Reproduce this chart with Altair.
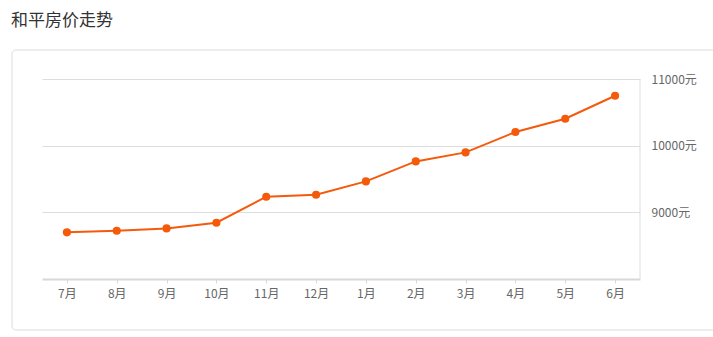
import altair as alt
import pandas as pd

months = ["7月", "8月", "9月", "10月", "11月", "12月", "1月", "2月", "3月", "4月", "5月", "6月"]
prices = [8700, 8724, 8759, 8844, 9234, 9264, 9464, 9764, 9899, 10205, 10404, 10749]
y_ticks = [9000, 10000, 11000]

df = pd.DataFrame({"month": months, "price": prices})

W, H = 598, 200
FONT = "Noto Sans CJK SC"
ORANGE = "#f45a0a"

x = alt.X("month:N", sort=months, scale=alt.Scale(type="point", padding=0.5),
          axis=alt.Axis(title=None, labelAngle=0, labelFont=FONT, labelFontSize=12,
                        labelColor="#666", domainColor="#d8d8d8", domainWidth=2,
                        tickColor="#d8d8d8", tickSize=4, labelPadding=5, grid=False))
y = alt.Y("price:Q", scale=alt.Scale(domain=[8000, 11000], nice=False, zero=False),
          axis=alt.Axis(title=None, orient="right", values=y_ticks,
                        labelExpr="datum.value + '元'", labelFont=FONT, labelFontSize=12,
                        labelColor="#666", domain=False, ticks=False, labelPadding=11,
                        grid=True, gridColor="#dddddd", gridWidth=1))

box = alt.Chart(pd.DataFrame({"a": [0]})).mark_rect(
    fill="transparent", stroke="#dcdcdc", strokeWidth=1, cornerRadius=4
).encode(x=alt.value(-30), x2=alt.value(W + 90), y=alt.value(-29), y2=alt.value(H + 51))

right_rule = alt.Chart(pd.DataFrame({"a": [0]})).mark_rule(
    color="#dddddd", strokeWidth=1
).encode(x=alt.value(W), y=alt.value(0), y2=alt.value(H))

line = alt.Chart(df).mark_line(color=ORANGE, strokeWidth=2).encode(x=x, y=y)
points = alt.Chart(df).mark_circle(color=ORANGE, size=66, opacity=1).encode(x=x, y=y)

chart = alt.layer(box, right_rule, line, points).properties(
    width=W, height=H,
    background="white",
    autosize=alt.AutoSizeParams(type="none"),
    padding={"left": 42, "top": 79, "right": 73, "bottom": 58},
    title=alt.TitleParams("和平房价走势", anchor="start", font=FONT, fontSize=17,
                          fontWeight="normal", color="#333", dx=-31, offset=20,
                          frame="group"),
).configure_view(strokeWidth=0, stroke="transparent")

chart.save("out.html", embed_options={"renderer": "svg", "actions": False})
